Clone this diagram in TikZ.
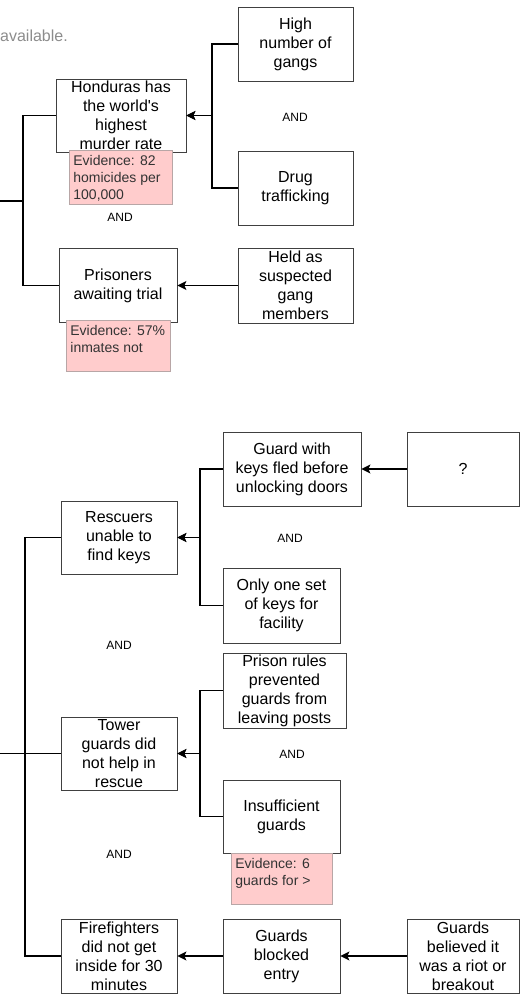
\documentclass[tikz,border=0pt]{standalone}
\usepackage{fontspec}
\setmainfont{Liberation Sans}[Ligatures=TeXOff]
\usetikzlibrary{arrows.meta}

\definecolor{belegfill}{HTML}{FFCCCC}
\definecolor{beleglinie}{HTML}{B8A6A6}
\definecolor{belegtext}{HTML}{333333}

% Text eines Belegs oben links im Kasten
\newcommand{\belegtext}[3]{\begin{minipage}[t][#2][t]{#1}#3\end{minipage}}

\begin{document}
\begin{tikzpicture}[x=1pt, y=-1pt,
    ursache/.style={draw=black!75, line width=0.8pt, rectangle, inner sep=0pt,
        minimum width=117pt, minimum height=74pt, align=center,
        font=\fontsize{16}{19}\selectfont},
    beleg/.style={draw=beleglinie, fill=belegfill, line width=0.8pt, anchor=north west,
        inner xsep=4pt, inner ysep=5pt, text=belegtext,
        font=\fontsize{14}{17}\selectfont},
    und/.style={font=\fontsize{12}{14}\selectfont},
    linie/.style={line width=1.2pt},
    pfeil/.style={line width=1.2pt, -{Stealth[length=9pt, width=9pt, inset=2pt]}}]
        \useasboundingbox (0,0) rectangle (529,994);

        % abgeschnittener Text oben links
        \node[anchor=base west, inner sep=0pt, text=black!45, font=\fontsize{16}{19}\selectfont] (rest) at (0,41.5) {available.};

        % obere Ursachen
        \node[ursache, minimum width=130pt, minimum height=73pt] (mord) at (121,115.5) {Honduras has\\the world's\\highest\\murder rate};
        \node[ursache, minimum width=118pt] (warten) at (118,285.5) {Prisoners\\awaiting trial};
        \node[ursache, minimum width=115pt] (banden) at (295.5,44) {High\\number of\\gangs};
        \node[ursache, minimum width=115pt] (drogen) at (295.5,188) {Drug\\trafficking};
        \node[ursache, minimum width=115pt, minimum height=75pt] (verdacht) at (295.5,285.5) {Held as\\suspected\\gang\\members};

        % Belege oben
        \node[beleg] (beleg1) at (69,150) {\belegtext{95pt}{44pt}{Evidence: 82\\homicides per\\100,000}};
        \node[beleg] (beleg2) at (66,320) {\belegtext{96pt}{41pt}{Evidence: 57\%\\inmates not}};

        \node[und] (und1) at (120,217) {AND};
        \node[und] (und2) at (295,117) {AND};

        % Verbindungen oben
        \coordinate (j1) at (212,115.5);
        \coordinate (r1) at (23,201);
        \coordinate (s1) at (0,201);
        \draw[pfeil] (banden.west) -| (j1) -- (mord.east);
        \draw[pfeil] (drogen.west) -| (j1) -- (mord.east);
        \draw[pfeil] (verdacht) -- (warten);
        \draw[linie] (mord.west) -| (r1);
        \draw[linie] (warten.west) -| (r1);
        \draw[linie] (s1) -- (r1);

        % untere Ursachen
        \node[ursache, minimum width=116pt, minimum height=73pt] (retter) at (119,537.5) {Rescuers\\unable to\\find keys};
        \node[ursache, minimum width=116pt, minimum height=73pt] (turm) at (119,753.5) {Tower\\guards did\\not help in\\rescue};
        \node[ursache, minimum width=116pt] (feuer) at (119,956) {Firefighters\\did not get\\inside for 30\\minutes};
        \node[ursache, minimum width=138pt] (flucht) at (292,469) {Guard with\\keys fled before\\unlocking doors};
        \node[ursache, minimum width=112pt] (frage) at (463,469) {?};
        \node[ursache, minimum height=75pt] (schluessel) at (281.5,605.5) {Only one set\\of keys for\\facility};
        \node[ursache, minimum width=123pt, minimum height=75pt] (regeln) at (284.5,690.5) {Prison rules\\prevented\\guards from\\leaving posts};
        \node[ursache, minimum height=73pt] (wachen) at (281.5,816.5) {Insufficient\\guards};
        \node[ursache] (sperre) at (281.5,956) {Guards\\blocked\\entry};
        \node[ursache, minimum width=112pt] (aufstand) at (463,956) {Guards\\believed it\\was a riot or\\breakout};

        % Beleg unten
        \node[beleg] (beleg3) at (231,853) {\belegtext{93pt}{41pt}{Evidence: 6\\guards for >}};

        \node[und] (und3) at (290,538) {AND};
        \node[und] (und4) at (119,645) {AND};
        \node[und] (und5) at (292,754) {AND};
        \node[und] (und6) at (119,854) {AND};

        % Verbindungen unten
        \coordinate (j2) at (200,537.5);
        \coordinate (j3) at (200,753.5);
        \coordinate (r2) at (25,753.5);
        \coordinate (s2) at (0,753.5);
        \draw[pfeil] (frage) -- (flucht);
        \draw[pfeil] (flucht.west) -| (j2) -- (retter.east);
        \draw[pfeil] (schluessel.west) -| (j2) -- (retter.east);
        \draw[pfeil] (regeln.west) -| (j3) -- (turm.east);
        \draw[pfeil] (wachen.west) -| (j3) -- (turm.east);
        \draw[pfeil] (sperre) -- (feuer);
        \draw[pfeil] (aufstand) -- (sperre);
        \draw[linie] (retter.west) -| (r2);
        \draw[linie] (feuer.west) -| (r2);
        \draw[linie] (s2) -- (turm.west);

    \end{tikzpicture}
\end{document}
